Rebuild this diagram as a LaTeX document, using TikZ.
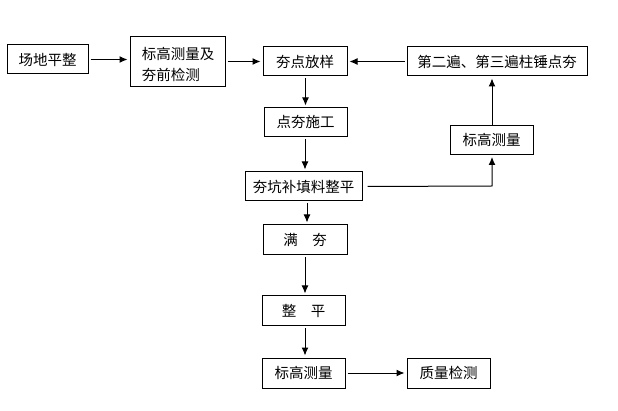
\documentclass[tikz,border=0pt]{standalone}
\usepackage{fontspec}
\newfontfamily\cjk{Noto Sans CJK SC}
\usetikzlibrary{arrows.meta}
\begin{document}
\begin{tikzpicture}[x=1pt,y=-1pt,
  box/.style={draw=black,line width=1pt,rectangle,inner sep=0pt,minimum height=29pt,
    font=\cjk\fontsize{14.5}{20}\selectfont,align=center},
  arr/.style={draw=black,line width=1pt,-{Latex[length=8pt,width=7pt]},shorten >=2pt,shorten <=2pt}]
\fill[white] (0,0) rectangle (618,411);
\useasboundingbox (0,0) rectangle (618,411);
\node[box,minimum width=81pt] (a) at (47.5,59.5) {场地平整};
\node[box,minimum width=95pt,minimum height=50pt] (b) at (177.5,62) {};
\node[font=\cjk\fontsize{14.5}{21}\selectfont,align=left,inner sep=0pt] (bt) at (178,64.5) {标高测量及\\夯前检测};
\node[box,minimum width=84pt] (c) at (305,61.5) {夯点放样};
\node[box,minimum width=180pt] (d) at (497,61.5) {第二遍、第三遍柱锤点夯};
\node[box,minimum width=83pt] (e) at (305.5,122.5) {点夯施工};
\node[box,minimum width=83pt] (f) at (491.5,140) {标高测量};
\node[box,minimum width=117pt] (g) at (303.5,186.5) {夯坑补填料整平};
\node[box,minimum width=84pt,minimum height=30pt] (h) at (305,240) {满\hspace{1em}夯};
\node[box,minimum width=83pt,minimum height=30pt] (i) at (303.5,311) {整\hspace{1em}平};
\node[box,minimum width=83pt,minimum height=30pt] (j) at (303.5,373) {标高测量};
\node[box,minimum width=83pt,minimum height=30pt] (k) at (448.5,373) {质量检测};
\draw[arr] (a.east) -- (a.east -| b.west);
\draw[arr] (b.east |- c) -- (c.west);
\draw[arr] (d.west) -- (c.east);
\draw[arr] (c.south -| 305.5,0) -- (e.north -| 305.5,0);
\draw[arr] (e.south -| 305,0) -- (g.north -| 305,0);
\coordinate (turn) at (492,186);
\draw[arr] ([xshift=3pt]g.east) -- (turn) -- (f.south -| turn);
\draw[arr,shorten <=0pt] (f.north -| turn) -- (d.south -| turn);
\draw[arr] (g.south -| 307,0) -- (h.north -| 307,0);
\draw[arr] (h.south -| 305,0) -- (i.north -| 305,0);
\draw[arr] (i.south -| 305,0) -- (j.north -| 305,0);
\draw[arr] (j.east) -- (k.west);
\end{tikzpicture}
\end{document}
